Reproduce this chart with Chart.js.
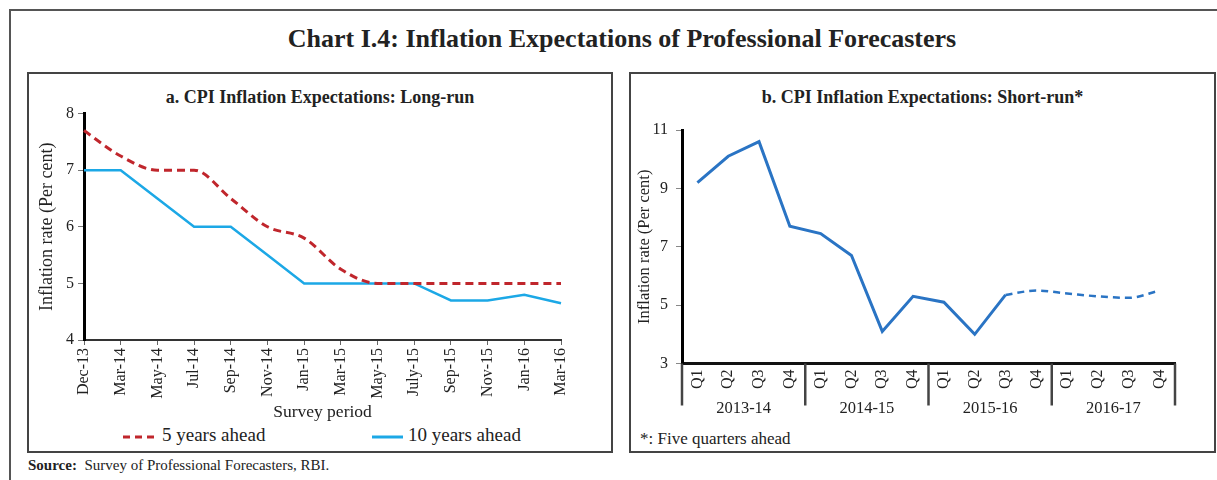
<!DOCTYPE html>
<html>
<head>
<meta charset="utf-8">
<script src="https://cdn.jsdelivr.net/npm/chart.js@4.4.1/dist/chart.umd.min.js"></script>
<style>
  html, body { margin:0; padding:0; background:#fff; }
  body { width:1217px; height:480px; position:relative; overflow:hidden; font-family:"Liberation Serif", serif; color:#222; }
  .abs { position:absolute; }
  #outer { left:9px; top:9px; width:1230px; height:500px; border-left:2px solid #555; border-top:2px solid #555; }
  .panel { border:2px solid #444; box-sizing:border-box; }
  #panelA { left:27px; top:72px; width:586px; height:381px; }
  #panelB { left:629px; top:72px; width:587px; height:381px; }
  #title { left:0; width:1244px; top:24px; text-align:center; font-weight:bold; font-size:26px; }
  .sub { font-weight:bold; font-size:18px; text-align:center; }
  #subA { left:27px; width:586px; top:87px; }
  #subB { left:629px; width:587px; top:87px; }
  #cA { left:29px; top:100px; }
  #cB { left:631px; top:100px; }
  .leg { font-size:19px; top:424px; white-space:nowrap; }
  #foot { left:640px; top:429px; font-size:17px; }
  #source { left:28px; top:457px; font-size:15px; }
</style>
</head>
<body>
<div id="outer" class="abs"></div>
<div id="panelA" class="abs panel"></div>
<div id="panelB" class="abs panel"></div>
<div id="title" class="abs">Chart I.4: Inflation Expectations of Professional Forecasters</div>
<div id="subA" class="abs sub">a. CPI Inflation Expectations: Long-run</div>
<div id="subB" class="abs sub">b. CPI Inflation Expectations: Short-run*</div>
<canvas id="cA" class="abs" width="581" height="323"></canvas>
<canvas id="cB" class="abs" width="583" height="320"></canvas>
<div class="abs leg" style="left:122px;"><svg width="34" height="10" style="vertical-align:middle;margin-right:6px"><line x1="1" y1="5" x2="33" y2="5" stroke="#C0262C" stroke-width="3" stroke-dasharray="7,5"/></svg>5 years ahead</div>
<div class="abs leg" style="left:372px;"><svg width="31" height="10" style="vertical-align:middle;margin-right:5px"><line x1="0" y1="5" x2="31" y2="5" stroke="#1CA8E6" stroke-width="3"/></svg>10 years ahead</div>
<div id="foot" class="abs">*: Five quarters ahead</div>
<div id="source" class="abs"><b>Source:</b>&nbsp; Survey of Professional Forecasters, RBI.</div>

<script>
// ---- Data: Chart a (long-run) ----
const surveyPeriods = ['Dec-13','Mar-14','May-14','Jul-14','Sep-14','Nov-14','Jan-15','Mar-15','May-15','July-15','Sep-15','Nov-15','Jan-16','Mar-16'];
const fiveYearsAhead = [7.7, 7.25, 7.0, 7.0, 6.5, 6.0, 5.8, 5.25, 5.0, 5.0, 5.0, 5.0, 5.0, 5.0];
const tenYearsAhead  = [7.0, 7.0, 6.5, 6.0, 6.0, 5.5, 5.0, 5.0, 5.0, 5.0, 4.7, 4.7, 4.8, 4.65];
const longRunTicks = [4, 5, 6, 7, 8];

// ---- Data: Chart b (short-run) ----
const quarterLabels = ['Q1','Q2','Q3','Q4','Q1','Q2','Q3','Q4','Q1','Q2','Q3','Q4','Q1','Q2','Q3','Q4'];
const yearLabels = ['2013-14','2014-15','2015-16','2016-17'];
const shortRunActual    = [9.2, 10.1, 10.6, 7.7, 7.45, 6.7, 4.1, 5.3, 5.1, 4.0, 5.35, null, null, null, null, null];
const shortRunProjected = [null, null, null, null, null, null, null, null, null, null, 5.35, 5.5, 5.4, 5.3, 5.25, 5.5];
const shortRunTicks = [3, 5, 7, 9, 11];

const FONT = '"Liberation Serif", serif';
const TXT = '#222';

new Chart(document.getElementById('cA'), {
  type: 'line',
  data: {
    labels: surveyPeriods,
    datasets: [
      { label: '5 years ahead', data: fiveYearsAhead, borderColor: '#C0262C', borderWidth: 3, borderDash: [8,5], pointRadius: 0, cubicInterpolationMode: 'monotone', fill: false },
      { label: '10 years ahead', data: tenYearsAhead, borderColor: '#1CA8E6', borderWidth: 2.5, pointRadius: 0, tension: 0, fill: false }
    ]
  },
  options: {
    responsive: false, animation: false,
    layout: { padding: { top: 12, right: 49, left: 0, bottom: 0 } },
    plugins: { legend: { display: false }, tooltip: { enabled: false } },
    scales: {
      x: {
        offset: false,
        grid: { drawOnChartArea: false, drawTicks: true, tickLength: 5, color: '#666', lineWidth: 1 },
        border: { display: true, color: '#333', width: 2 },
        ticks: { autoSkip: false, minRotation: 90, maxRotation: 90, padding: 3, color: TXT, font: { family: FONT, size: 16 } },
        title: { display: true, text: 'Survey period', color: TXT, font: { family: FONT, size: 17.5 }, padding: { top: 0, bottom: 0 } },
        afterFit: (s) => { s.height = 83; }
      },
      y: {
        min: 4, max: 8,
        afterBuildTicks: (s) => { s.ticks = longRunTicks.map(v => ({ value: v })); },
        grid: { drawOnChartArea: false, drawTicks: true, tickLength: 6, color: '#777' },
        border: { display: true, color: '#000', width: 3 },
        ticks: { padding: 4, color: TXT, font: { family: FONT, size: 16 } },
        title: { display: true, text: 'Inflation rate (Per cent)', color: TXT, font: { family: FONT, size: 18 }, padding: { top: 7, bottom: 0 } },
        afterFit: (s) => { s.width = 55; }
      }
    }
  }
});

const yearAxisPlugin = {
  id: 'yearAxis',
  afterDraw(chart) {
    const x = chart.scales.x;
    const ctx = chart.ctx;
    const top = x.top;
    ctx.save();
    ctx.strokeStyle = '#444';
    ctx.lineWidth = 2.5;
    for (let i = 0; i <= yearLabels.length; i++) {
      const px = x.getPixelForValue(i * 4 - 0.5);
      ctx.beginPath();
      ctx.moveTo(px, top);
      ctx.lineTo(px, top + 42);
      ctx.stroke();
    }
    ctx.fillStyle = TXT;
    ctx.font = '16.5px ' + FONT;
    ctx.textAlign = 'center';
    ctx.textBaseline = 'middle';
    yearLabels.forEach((lbl, i) => {
      ctx.fillText(lbl, x.getPixelForValue(i * 4 + 1.5), top + 45);
    });
    ctx.restore();
  }
};

new Chart(document.getElementById('cB'), {
  type: 'line',
  data: {
    labels: quarterLabels,
    datasets: [
      { label: 'Short-run', data: shortRunActual, borderColor: '#2A74C4', borderWidth: 3, pointRadius: 0, tension: 0, spanGaps: false, fill: false },
      { label: 'Short-run projected', data: shortRunProjected, borderColor: '#2A74C4', borderWidth: 2.5, borderDash: [7,5], pointRadius: 0, cubicInterpolationMode: 'monotone', spanGaps: false, fill: false }
    ]
  },
  options: {
    responsive: false, animation: false,
    layout: { padding: { top: 30, right: 39, left: 0, bottom: 0 } },
    plugins: { legend: { display: false }, tooltip: { enabled: false } },
    scales: {
      x: {
        offset: true,
        grid: { display: false, drawTicks: false },
        border: { display: true, color: '#111', width: 3 },
        ticks: { autoSkip: false, minRotation: 90, maxRotation: 90, padding: 6, color: TXT, font: { family: FONT, size: 16 } },
        afterFit: (s) => { s.height = 56.5; }
      },
      y: {
        min: 3, max: 11,
        afterBuildTicks: (s) => { s.ticks = shortRunTicks.map(v => ({ value: v })); },
        grid: { drawOnChartArea: false, drawTicks: true, tickLength: 6, color: '#888' },
        border: { display: true, color: '#000', width: 3 },
        ticks: { padding: 8, color: TXT, font: { family: FONT, size: 16 } },
        title: { display: true, text: 'Inflation rate (Per cent)', color: TXT, font: { family: FONT, size: 16.5 }, padding: { top: 4, bottom: 0 } },
        afterFit: (s) => { s.width = 51; }
      }
    }
  },
  plugins: [yearAxisPlugin]
});
</script>
</body>
</html>
